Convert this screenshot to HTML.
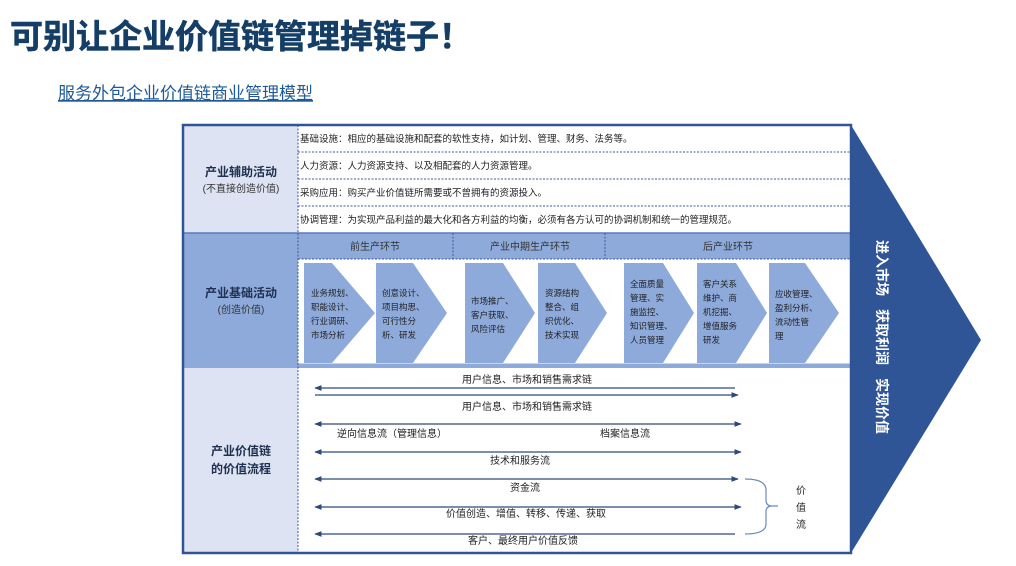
<!DOCTYPE html>
<html><head><meta charset="utf-8"><style>
body{margin:0;width:1016px;height:561px;background:#fff;overflow:hidden;font-family:"Liberation Sans","Noto Sans CJK SC",sans-serif}
svg text{font-family:"Liberation Sans","Noto Sans CJK SC",sans-serif}
</style></head><body>
<svg width="1016" height="561" viewBox="0 0 1016 561" xmlns="http://www.w3.org/2000/svg">
<defs>
<marker id="ah" viewBox="0 0 10 10" refX="9" refY="5" markerWidth="6" markerHeight="6" orient="auto-start-reverse"><path d="M0,1 L10,5 L0,9 z" fill="#2f4a7a"/></marker>
</defs>
<text x="10" y="48" font-size="33" font-weight="bold" fill="#153e66" stroke="#153e66" stroke-width="0.6">可别让企业价值链管理掉链子！</text>
<text x="58" y="99" font-size="17" fill="#1f5a96" text-decoration="underline">服务外包企业价值链商业管理模型</text>

<polygon points="851,125 981,340 851,553" fill="#2f5597"/>
<g font-size="14" font-weight="bold" fill="#fff">
<text transform="translate(877,240) rotate(90)">进入市场</text>
<text transform="translate(877,309) rotate(90)">获取利润</text>
<text transform="translate(877,378) rotate(90)">实现价值</text>
</g>

<rect x="183" y="125" width="115" height="108" fill="#dde3f2"/>
<rect x="183" y="233" width="115" height="134" fill="#8eaadb"/>
<rect x="183" y="367" width="115" height="186" fill="#dde3f2"/>
<rect x="298" y="233" width="553" height="26" fill="#8eaadb"/>
<rect x="298" y="259" width="553" height="108" fill="#fff"/>
<line x1="298" y1="365" x2="851" y2="365" stroke="#8eaadb" stroke-width="3"/>
<line x1="183" y1="233" x2="851" y2="233" stroke="#5a7bbf" stroke-width="1.5"/>
<line x1="183" y1="367" x2="851" y2="367" stroke="#8eaadb" stroke-width="2"/>
<g stroke="#3a5a9a" stroke-width="1" stroke-dasharray="2,1.5">
<line x1="298" y1="125" x2="298" y2="553"/>
<line x1="298" y1="152" x2="851" y2="152"/>
<line x1="298" y1="179" x2="851" y2="179"/>
<line x1="298" y1="206" x2="851" y2="206"/>
<line x1="298" y1="259" x2="851" y2="259"/>
<line x1="453" y1="233" x2="453" y2="259"/>
<line x1="605" y1="233" x2="605" y2="259"/>
</g>
<rect x="183" y="125" width="668" height="428" fill="none" stroke="#2f5597" stroke-width="2.5"/>

<g font-size="12" font-weight="bold" fill="#1f3050" text-anchor="middle">
<text x="241" y="176">产业辅助活动</text>
<text x="241" y="297">产业基础活动</text>
<text x="241" y="455">产业价值链</text>
<text x="241" y="473">的价值流程</text>
</g>
<g font-size="10" fill="#333" text-anchor="middle">
<text x="241" y="192">(不直接创造价值)</text>
<text x="241" y="313">(创造价值)</text>
</g>
<g font-size="9.5" fill="#222">
<text x="300" y="142">基础设施：相应的基础设施和配套的软性支持，如计划、管理、财务、法务等。</text>
<text x="300" y="169">人力资源：人力资源支持、以及相配套的人力资源管理。</text>
<text x="300" y="196">采购应用：购买产业价值链所需要或不曾拥有的资源投入。</text>
<text x="300" y="223">协调管理：为实现产品利益的最大化和各方利益的均衡，必须有各方认可的协调机制和统一的管理规范。</text>
</g>
<g font-size="10" fill="#333" text-anchor="middle">
<text x="375" y="250">前生产环节</text>
<text x="530" y="250">产业中期生产环节</text>
<text x="728" y="250">后产业环节</text>
</g>
<g fill="#8eaadb">
<polygon points="304,263 332,263 375,313 332,363 304,363"/>
<polygon points="376,263 413,263 447,313 413,363 376,363"/>
<polygon points="465,263 503,263 535,313 503,363 465,363"/>
<polygon points="538,263 575,263 607,313 575,363 538,363"/>
<polygon points="624,263 663,263 694,313 663,363 624,363"/>
<polygon points="697,263 736,263 767,313 736,363 697,363"/>
<polygon points="769,263 805,263 839,313 805,363 769,363"/>
</g>
<g font-size="8.5" fill="#222">
<text x="311" y="296">业务规划、</text><text x="311" y="310">职能设计、</text><text x="311" y="324">行业调研、</text><text x="311" y="338">市场分析</text>
<text x="382" y="296">创意设计、</text><text x="382" y="310">项目构思、</text><text x="382" y="324">可行性分</text><text x="382" y="338">析、研发</text>
<text x="471" y="304">市场推广、</text><text x="471" y="318">客户获取、</text><text x="471" y="332">风险评估</text>
<text x="545" y="296">资源结构</text><text x="545" y="310">整合、组</text><text x="545" y="324">织优化、</text><text x="545" y="338">技术实现</text>
<text x="630" y="287">全面质量</text><text x="630" y="301">管理、实</text><text x="630" y="315">施监控、</text><text x="630" y="329">知识管理、</text><text x="630" y="343">人员管理</text>
<text x="703" y="287">客户关系</text><text x="703" y="301">维护、商</text><text x="703" y="315">机挖掘、</text><text x="703" y="329">增值服务</text><text x="703" y="343">研发</text>
<text x="775" y="297">应收管理、</text><text x="775" y="311">盈利分析、</text><text x="775" y="325">流动性管</text><text x="775" y="339">理</text>
</g>
<g stroke="#2f4a7a" stroke-width="1.2" fill="none">
<line x1="735" y1="388" x2="315" y2="388" marker-end="url(#ah)"/>
<line x1="315" y1="395" x2="738" y2="395" marker-end="url(#ah)"/>
<line x1="315" y1="424" x2="741" y2="424" marker-start="url(#ah)" marker-end="url(#ah)"/>
<line x1="315" y1="452" x2="741" y2="452" marker-start="url(#ah)" marker-end="url(#ah)"/>
<line x1="315" y1="479" x2="738" y2="479" marker-start="url(#ah)" marker-end="url(#ah)"/>
<line x1="315" y1="507" x2="741" y2="507" marker-start="url(#ah)" marker-end="url(#ah)"/>
<line x1="735" y1="534" x2="315" y2="534" marker-end="url(#ah)"/>
<path d="M745,479 Q766,479 766,490 L766,500 Q766,506 772,506 L778,506 M772,506 Q766,506 766,512 L766,524 Q766,534 745,534" stroke="#6a88c0"/>
</g>
<g font-size="10" fill="#222" text-anchor="middle">
<text x="527" y="383">用户信息、市场和销售需求链</text>
<text x="527" y="410">用户信息、市场和销售需求链</text>
<text x="392" y="437">逆向信息流（管理信息）</text>
<text x="625" y="437">档案信息流</text>
<text x="520" y="464">技术和服务流</text>
<text x="525" y="491">资金流</text>
<text x="526" y="517">价值创造、增值、转移、传递、获取</text>
<text x="523" y="544">客户、最终用户价值反馈</text>
<text x="801" y="494">价</text><text x="801" y="511">值</text><text x="801" y="528">流</text>
</g>
</svg>
</body></html>
